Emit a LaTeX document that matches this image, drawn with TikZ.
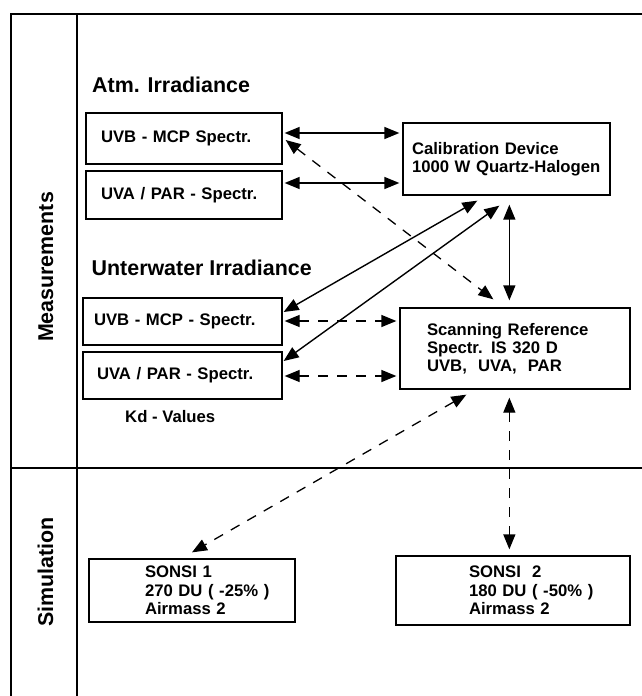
\documentclass[tikz,border=0pt]{standalone}
\usepackage{fontspec}
\setmainfont{Liberation Sans}
\usetikzlibrary{arrows.meta,calc}
\newcommand\bxpad[1]{\hspace*{#1pt}}
\begin{document}
\begin{tikzpicture}[x=1pt,y=-1pt,
  frame/.style={line width=2pt},
  bx/.style={draw, line width=1.3pt, inner xsep=0pt, inner ysep=0pt, align=left,
    font=\fontsize{16.7pt}{18pt}\selectfont\bfseries},
  head/.style={font=\fontsize{21.4pt}{24pt}\selectfont\bfseries, inner sep=0pt},
  lbl/.style={font=\fontsize{16.7pt}{18pt}\selectfont\bfseries, inner sep=0pt},
  con/.style={line width=1.4pt, {Triangle[length=15pt,width=12pt]}-{Triangle[length=15pt,width=12pt]}},
  dcon/.style={con, line width=1.3pt, dash pattern=on 10pt off 9pt},
]
\useasboundingbox (0,0) rectangle (642,696);
% frame
\draw[frame] (11,696) -- (11,14) -- (642,14);
\draw[frame] (77,14) -- (77,696);
\draw[frame] (11,468) -- (642,468);
% side labels
\node[head, rotate=90, anchor=base] (meas) at (53,267) {Measurements};
\node[head, rotate=90, anchor=base] (sim) at (53,572) {Simulation};
% headings
\node[head, anchor=base west] (atm) at (92,92) {Atm. Irradiance};
\node[head, anchor=base west] (unt) at (91.5,275) {Unterwater Irradiance};
\node[lbl, anchor=base west] (kd) at (125,422) {Kd - Values};
% boxes
\node[bx, minimum width=196pt, minimum height=51pt, text width=196pt] (a1) at (184,138.5) {\bxpad{15}UVB - MCP Spectr.};
\node[bx, minimum width=196pt, minimum height=48pt, text width=196pt] (a2) at (184,195) {\bxpad{15}UVA / PAR - Spectr.};
\node[bx, minimum width=207pt, minimum height=72pt, text width=207pt] (cal) at (506.5,159) {\bxpad{9}Calibration Device\\\bxpad{9}1000 W Quartz-Halogen};
\node[bx, minimum width=199pt, minimum height=47pt, text width=199pt] (u1) at (182.5,321.5) {\bxpad{11}UVB - MCP - Spectr.};
\node[bx, minimum width=199pt, minimum height=47pt, text width=199pt] (u2) at (182.5,375.5) {\bxpad{14}UVA / PAR - Spectr.};
\node[bx, minimum width=230pt, minimum height=81pt, text width=230pt] (scan) at (515,348.5) {\bxpad{27}Scanning Reference\\\bxpad{27}Spectr. IS 320 D\\\bxpad{27}UVB,~ UVA,~ PAR};
\node[bx, minimum width=206pt, minimum height=63pt, text width=206pt, font=\fontsize{16.7pt}{18.7pt}\selectfont\bfseries] (sonsi1) at (192,590.5) {\bxpad{56}SONSI 1\\\bxpad{56}270 DU ( -25\% )\\\bxpad{56}Airmass 2};
\node[bx, minimum width=234pt, minimum height=69pt, text width=234pt, font=\fontsize{16.7pt}{18.7pt}\selectfont\bfseries] (sonsi2) at (513,590.5) {\bxpad{73}SONSI~ 2\\\bxpad{73}180 DU ( -50\% )\\\bxpad{73}Airmass 2};
% connectors
\draw[con, shorten <=2pt, shorten >=3pt] (a1.east |- 0,133) -- (cal.west |- 0,133);
\draw[con, shorten <=2pt, shorten >=3pt] (a2.east |- 0,183) -- (cal.west |- 0,183);
\draw[dcon] ($(a1.east)+(3,1.5)$) -- ($(scan.north west)+(94,-8)$);
\draw[con] ($(cal.south west)+(75,5)$) -- ($(u1.east)+(1,-9.5)$);
\draw[con] ($(cal.south west)+(97,10)$) -- ($(u2.east)+(1,-14.5)$);
\draw[con] ($(cal.south west)+(107,9)$) -- ($(scan.north west)+(110,-7)$);
\draw[dcon, shorten <=2pt, shorten >=3pt] (u1.east |- 0,321) -- (scan.west |- 0,321);
\draw[dcon, shorten <=2pt, shorten >=3pt] (u2.east |- 0,376) -- (scan.west |- 0,376);
\draw[dcon] ($(scan.south west)+(67,5)$) -- ($(sonsi1.north)+(0,-6)$);
\draw[dcon] ($(scan.south west)+(110,8)$) -- ($(sonsi2.north west)+(114,-6)$);
\end{tikzpicture}
\end{document}
